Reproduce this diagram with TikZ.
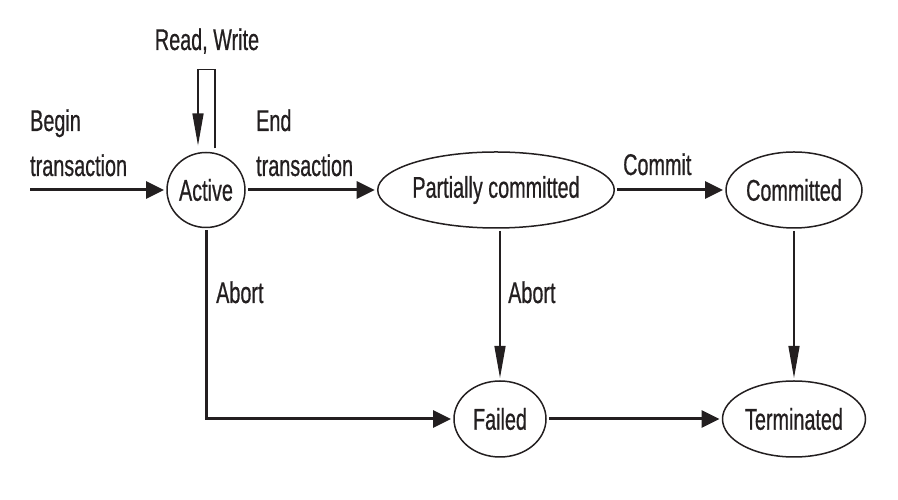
\documentclass[tikz,border=0pt]{standalone}
\usepackage{fontspec}
\setmainfont{Liberation Sans}[FakeStretch=0.66,FakeBold=0.6]
\usetikzlibrary{shapes.geometric,arrows.meta}
\definecolor{ink}{RGB}{35,31,32}
\begin{document}
\begin{tikzpicture}[x=1pt,y=1pt,
  every node/.style={font=\fontsize{30}{45}\selectfont, text=ink},
  state/.style={ellipse, draw=ink, line width=1.5pt, inner sep=0pt, outer sep=3pt, minimum height=76pt},
  lbl/.style={inner sep=0pt, anchor=base west, align=left},
  thickarrow/.style={draw=ink, line width=3pt, -{Triangle[length=18pt,width=17pt]}},
  thinarrow/.style={draw=ink, line width=1.4pt, -{Triangle[length=32pt,width=11pt]}},
  thinline/.style={draw=ink, line width=1.4pt}]
\useasboundingbox (0,0) rectangle (898,500);

\node[state, minimum width=78pt, minimum height=75pt] (active) at (206,310) {Active};
\node[state, minimum width=225pt] (pc) at (496,310) {Partially committed};
\node[state, minimum width=136pt] (committed) at (794,310) {Committed};
\node[state, minimum width=92pt] (failed) at (500,81) {Failed};
\node[state, minimum width=143pt] (terminated) at (794,81) {Terminated};

\coordinate (start) at (30,310);

% labels
\node[lbl] (lbegin) at (30,324) {Begin\\transaction};
\node[lbl] (lend) at (256,324) {End\\transaction};
\node[lbl] (lcommit) at (623,325) {Commit};
\node[lbl] (labort1) at (216,197) {Abort};
\node[lbl] (labort2) at (508,197) {Abort};
\node[inner sep=0pt, anchor=base] (lrw) at (207,450) {Read, Write};

% connectors
\draw[thickarrow] (start) -- (active.west);
\draw[thickarrow] (active.east) -- (pc.west);
\draw[thickarrow] (pc.east) -- (committed.west);
\draw[thickarrow] (failed.east) -- (terminated.west);
\draw[thickarrow] (active.south) |- (failed.west);
\draw[thinline] (active.south) -- ++(0,-2);
\draw[thinarrow] (failed.north |- pc.south) -- (failed.north);
\draw[thinarrow] (committed.south) -- (committed.south |- terminated.north);
\draw[thinarrow] ([xshift=9pt,yshift=1pt]active.north) -- ++(0,79) -- ++(-17,0) -- ++(0,-76);
\end{tikzpicture}
\end{document}
